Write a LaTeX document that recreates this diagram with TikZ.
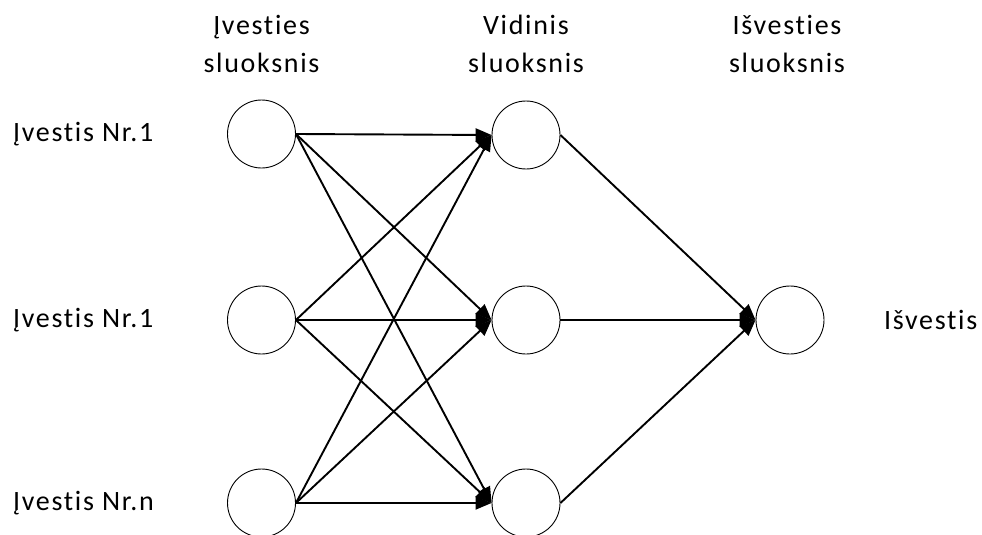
\documentclass[tikz,border=0pt]{standalone}
\usepackage{fontspec}
\setmainfont{Carlito}[LetterSpace=6,Ligatures={NoCommon,NoRequired,NoContextual},RawFeature={-liga;-clig;-dlig}]
\usetikzlibrary{arrows.meta}
\begin{document}
\begin{tikzpicture}[x=1pt,y=-1pt,
  neuron/.style={circle,draw,line width=0.9pt,minimum size=68pt,inner sep=0pt},
  conn/.style={line width=1.9pt,-{Triangle[length=16pt,width=13pt]}},
  lbl/.style={font=\fontsize{28}{38}\selectfont,inner sep=0pt},
  head/.style={lbl,align=center}]
\useasboundingbox (0,0) rectangle (982,535);
% layers
\node[neuron] (i1) at (261.5,134) {};
\node[neuron] (i2) at (261.5,320) {};
\node[neuron] (i3) at (261.5,503) {};
\node[neuron] (h1) at (526,135) {};
\node[neuron] (h2) at (526,320) {};
\node[neuron] (h3) at (526,503) {};
\node[neuron] (o) at (790,320) {};
% layer titles (base anchor sits on the last line)
\node[head,anchor=base] (t1) at (261.5,73) {Įvesties\\sluoksnis};
\node[head,anchor=base] (t2) at (526,73) {Vidinis\\sluoksnis};
\node[head,anchor=base] (t3) at (787,73) {Išvesties\\sluoksnis};
% input and output labels
\node[lbl,anchor=west] (l1) at (13,134) {Įvestis Nr.1};
\node[lbl,anchor=west] (l2) at (13,320) {Įvestis Nr.1};
\node[lbl,anchor=west] (l3) at (13,503) {Įvestis Nr.n};
\node[lbl,anchor=west] (lo) at (884,320) {Išvestis};
% input to hidden connections
\foreach \a in {i1,i2,i3}
  \foreach \b in {h1,h2,h3}
    \draw[conn] (\a.east) -- (\b.west);
% hidden to output connections
\foreach \b in {h1,h2,h3}
  \draw[conn] (\b.east) -- (o.west);
\end{tikzpicture}
\end{document}
